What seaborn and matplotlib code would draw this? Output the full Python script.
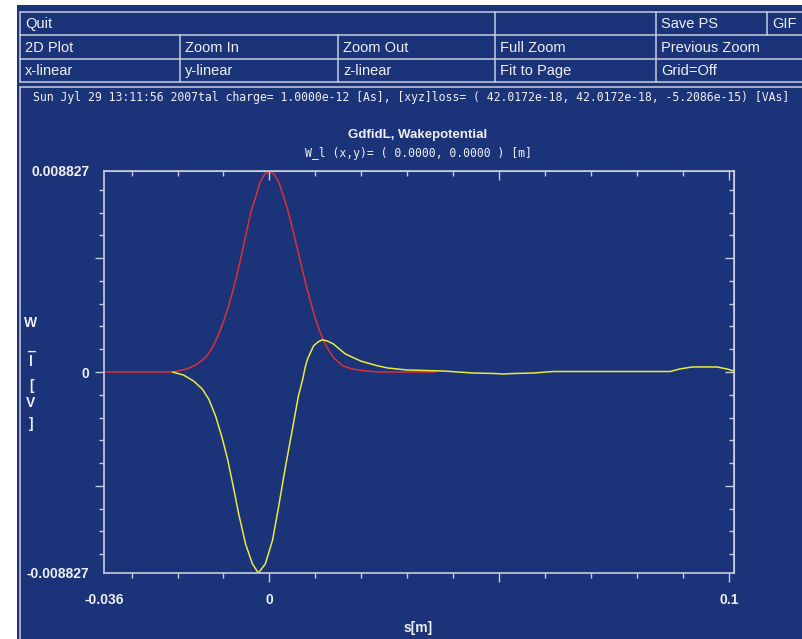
import pandas as pd
import seaborn as sns
import matplotlib.pyplot as plt
from matplotlib.patches import Rectangle
from matplotlib.ticker import FixedLocator, FixedFormatter, MultipleLocator

# bunch profile (red) and longitudinal wake potential (yellow)
bunch_s = [-0.036, -0.021, -0.018, -0.016, -0.014, -0.013, -0.012, -0.011, -0.010, -0.009,
           -0.008, -0.007, -0.006, -0.005, -0.004, -0.003, -0.002, -0.001, 0.000, 0.001,
           0.002, 0.003, 0.004, 0.005, 0.006, 0.007, 0.008, 0.009, 0.010, 0.011,
           0.012, 0.013, 0.014, 0.016, 0.018, 0.021, 0.024, 0.036]
bunch_w = [0, 0, 0.000132, 0.000309, 0.000618, 0.000883, 0.001236, 0.001677, 0.002207, 0.002825,
           0.003531, 0.004325, 0.005208, 0.006135, 0.007062, 0.007679, 0.008342, 0.008695, 0.008827, 0.008695,
           0.008342, 0.007768, 0.007106, 0.006311, 0.005473, 0.004634, 0.003796, 0.003045, 0.002339, 0.001765,
           0.001280, 0.000927, 0.000618, 0.000265, 0.000132, 0.000044, 0, 0]

wake_s = [-0.0211, -0.0187, -0.0165, -0.0146, -0.0132, -0.0117, -0.0102, -0.0091, -0.0080, -0.0067,
          -0.0052, -0.0037, -0.0024, -0.0009, 0.0007, 0.0020, 0.0035, 0.0050, 0.0063, 0.0072,
          0.0078, 0.0083, 0.0096, 0.0106, 0.0115, 0.0125, 0.0139, 0.0165, 0.0198, 0.0213,
          0.0237, 0.0257, 0.0300, 0.0378, 0.0443, 0.0490, 0.0509, 0.0530, 0.0574, 0.0617,
          0.0872, 0.0893, 0.0920, 0.0974, 0.0996, 0.1011]
wake_w = [0, -0.000132, -0.000397, -0.000750, -0.001192, -0.001942, -0.002957, -0.003840, -0.004899, -0.006223,
          -0.007547, -0.008430, -0.008827, -0.008430, -0.007371, -0.005914, -0.004149, -0.002516, -0.001059, -0.000353,
          0.000221, 0.000574, 0.001148, 0.001324, 0.001412, 0.001368, 0.001236, 0.000794, 0.000485, 0.000397,
          0.000265, 0.000177, 0.000088, 0.000044, -0.000044, -0.000066, -0.000088, -0.000066, -0.000044, 0.000022,
          0.000022, 0.000132, 0.000221, 0.000221, 0.000132, 0.000044]

x_major = [-0.036, 0, 0.05, 0.1]
x_major_labels = ['-0.036', '0', '', '0.1']
y_major = [-0.008827, -0.005, 0, 0.005, 0.008827]
y_major_labels = ['-0.008827', '', '0', '', '0.008827']

button_row1 = ['Quit', '', 'Save PS', 'GIF']
button_row2 = ['2D Plot', 'Zoom In', 'Zoom Out', 'Full Zoom', 'Previous Zoom']
button_row3 = ['x-linear', 'y-linear', 'z-linear', 'Fit to Page', 'Grid=Off']

info_line = ('Sun Jyl 29 13:11:56 2007tal charge= 1.0000e-12 [As], '
             '[xyz]loss= ( 42.0172e-18, 42.0172e-18, -5.2086e-15) [VAs]')
title = 'GdfidL, Wakepotential'
subtitle = 'W_l (x,y)= ( 0.0000, 0.0000 ) [m]'
ylabel_chars = ['W', '_', 'l', '[', 'V', ']']
xlabel = 's[m]'

BLUE = '#1a3379'
LINE = '#c8cce0'
TXT = '#f0f0f4'
RED = '#dc3036'
YELLOW = '#ecea3c'
MONO = 'DejaVu Sans Mono'

sns.set_style('ticks')
plt.rcParams['font.family'] = ['Liberation Sans', 'DejaVu Sans']

W, H = 802, 639
fig = plt.figure(figsize=(W / 100, H / 100), dpi=100)
fig.patch.set_facecolor('white')

# background panel in pixel coordinates
bg = fig.add_axes([0, 0, 1, 1], zorder=0)
bg.set_xlim(0, W)
bg.set_ylim(H, 0)
bg.axis('off')
bg.add_patch(Rectangle((17, 5), W - 17, H - 5, color=BLUE, lw=0))

lw = 1.1
# button grid
for yy in [12, 35, 59, 82]:
    bg.plot([20, W], [yy, yy], color=LINE, lw=lw)
bg.plot([20, 20], [12, 82], color=LINE, lw=lw)
for xx in [495, 656, 767]:
    bg.plot([xx, xx], [12, 35], color=LINE, lw=lw)
for xx in [180, 338, 495, 656]:
    bg.plot([xx, xx], [35, 82], color=LINE, lw=lw)

row1_x = [20, 495, 656, 767]
rows_x = [20, 180, 338, 495, 656]
for lab, xx in zip(button_row1, row1_x):
    bg.text(xx + 5, 24, lab, color=TXT, fontsize=10.5, va='center', ha='left')
for lab, xx in zip(button_row2, rows_x):
    bg.text(xx + 5, 47.5, lab, color=TXT, fontsize=10.5, va='center', ha='left')
for lab, xx in zip(button_row3, rows_x):
    bg.text(xx + 5, 71, lab, color=TXT, fontsize=10.5, va='center', ha='left')

# info / plot panel border
bg.plot([20, W], [87, 87], color=LINE, lw=lw)
bg.plot([20, 20], [87, H], color=LINE, lw=lw)
bg.text(33, 97, info_line, family=MONO, fontsize=8.3, color=TXT, va='center', ha='left')

bg.text(418, 135, title, fontsize=9.5, weight='bold', color=TXT, ha='center', va='center')
bg.text(418, 153, subtitle, family=MONO, fontsize=8.3, color=TXT, ha='center', va='center')
bg.text(418, 628, xlabel, fontsize=10, weight='bold', color=TXT, ha='center', va='center')
for ch, yy in zip(ylabel_chars, [323, 346, 362, 386, 403, 424]):
    bg.text(31, yy, ch, fontsize=10, weight='bold', color=TXT, ha='center', va='center')

# plot area
ax = fig.add_axes([104 / W, 1 - 573 / H, (734 - 104) / W, (573 - 171) / H], zorder=1)
ax.set_facecolor(BLUE)
df_bunch = pd.DataFrame({'s': bunch_s, 'W': bunch_w})
df_wake = pd.DataFrame({'s': wake_s, 'W': wake_w})
sns.lineplot(data=df_bunch, x='s', y='W', color=RED, linewidth=1.1, ax=ax)
sns.lineplot(data=df_wake, x='s', y='W', color=YELLOW, linewidth=1.1, ax=ax)
ax.set_xlim(-0.036, 0.1011)
ax.set_ylim(-0.008827, 0.008827)
ax.set_xlabel('')
ax.set_ylabel('')

for sp in ax.spines.values():
    sp.set_color(LINE)
    sp.set_linewidth(1.2)

ax.xaxis.set_major_locator(FixedLocator(x_major))
ax.xaxis.set_major_formatter(FixedFormatter(x_major_labels))
ax.xaxis.set_minor_locator(MultipleLocator(0.01))
ax.yaxis.set_major_locator(FixedLocator(y_major))
ax.yaxis.set_major_formatter(FixedFormatter(y_major_labels))
ax.yaxis.set_minor_locator(MultipleLocator(0.001))
ax.tick_params(which='both', direction='out', color=LINE, width=1, labelcolor=TXT, labelsize=10)
ax.tick_params(which='major', length=6.2)
ax.tick_params(which='minor', length=3.4)
ax.tick_params(axis='x', pad=8.5)
ax.tick_params(axis='y', pad=4.3)
for lab in ax.get_xticklabels() + ax.get_yticklabels():
    lab.set_fontweight('bold')

# the end labels sit on the axis corners without a tick mark
ax.xaxis.get_major_ticks()[0].tick1line.set_visible(False)
ax.yaxis.get_major_ticks()[0].tick1line.set_visible(False)
ax.yaxis.get_major_ticks()[-1].tick1line.set_visible(False)

# ticks on the top and right edges point inward
top = ax.secondary_xaxis('top')
top.xaxis.set_major_locator(FixedLocator([0, 0.05, 0.1]))
top.xaxis.set_minor_locator(MultipleLocator(0.01))
top.tick_params(which='both', direction='in', color=LINE, width=1, labeltop=False)
top.tick_params(which='major', length=6.2)
top.tick_params(which='minor', length=3.4)
top.spines['top'].set_color(LINE)

right = ax.secondary_yaxis('right')
right.yaxis.set_major_locator(FixedLocator([-0.005, 0, 0.005]))
right.yaxis.set_minor_locator(MultipleLocator(0.001))
right.tick_params(which='both', direction='in', color=LINE, width=1, labelright=False)
right.tick_params(which='major', length=6.2)
right.tick_params(which='minor', length=3.4)
right.spines['right'].set_color(LINE)

fig.savefig('out.png', dpi=100, facecolor=fig.get_facecolor())
